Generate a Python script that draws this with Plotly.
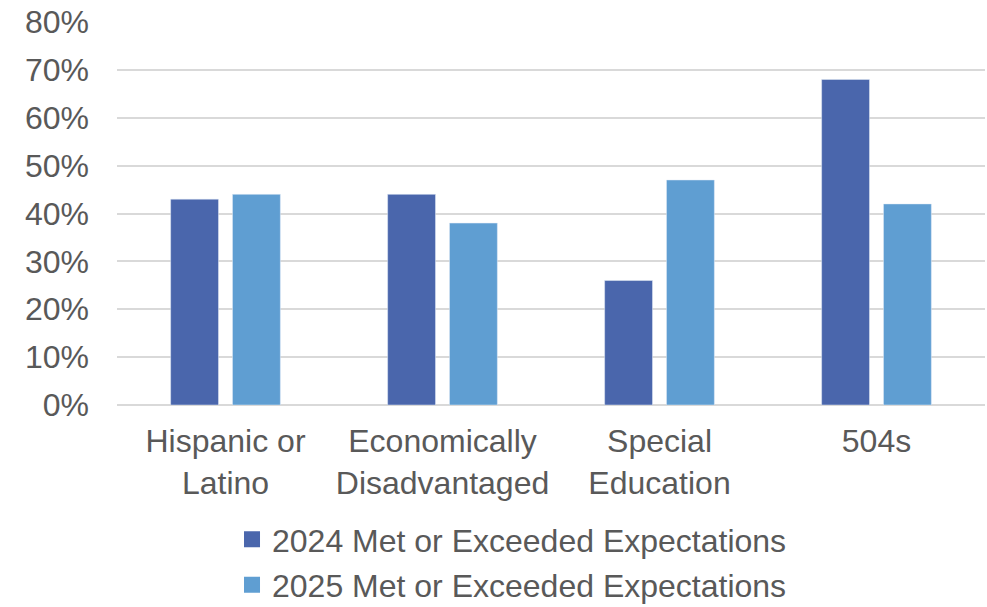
import plotly.graph_objects as go

categories = ["Hispanic or<br>Latino", "Economically<br>Disadvantaged", "Special<br>Education", "504s"]
series_names = ["2024 Met or Exceeded Expectations", "2025 Met or Exceeded Expectations"]
values_2024 = [0.43, 0.44, 0.26, 0.68]
values_2025 = [0.44, 0.38, 0.47, 0.42]
colors = ["#4A66AC", "#5F9ED2"]

fig = go.Figure()
fig.add_trace(go.Bar(x=categories, y=values_2024, name=series_names[0], marker_color=colors[0], showlegend=False))
fig.add_trace(go.Bar(x=categories, y=values_2025, name=series_names[1], marker_color=colors[1], showlegend=False))
# legend entries with larger square swatches
for name, col, grp in zip(series_names, colors, ["a", "b"]):
    fig.add_trace(go.Scatter(x=[None], y=[None], mode="markers", name=name, legendgroup=grp,
                             marker=dict(symbol="square", size=16, color=col), showlegend=True))

font = dict(family="Liberation Sans, Arial, sans-serif", size=32, color="#595959")
fig.update_layout(
    width=987, height=607,
    margin=dict(l=117, r=2, t=22, b=202, autoexpand=False),
    paper_bgcolor="white", plot_bgcolor="white",
    font=font,
    barmode="group", bargap=0.43, bargroupgap=0.226,
    showlegend=True,
    legend=dict(orientation="v", x=0.1325, xanchor="left", y=-0.279, yanchor="top",
                font=font, tracegroupgap=1, itemsizing="trace"),
    xaxis=dict(showgrid=False, showline=False, ticks="", tickfont=font, tickangle=0,
               automargin=False, ticklabelstandoff=14),
    yaxis=dict(range=[0, 0.8], dtick=0.1, tickformat=".0%", showgrid=True,
               gridcolor="#D9D9D9", gridwidth=2, zeroline=True, zerolinecolor="#D9D9D9",
               zerolinewidth=2, ticks="", tickfont=font, ticklabelstandoff=27,
               automargin=False),
)
fig.write_html("out.html", config={"displayModeBar": False},
               post_script="document.body.style.margin='0';document.body.style.overflow='hidden';")
